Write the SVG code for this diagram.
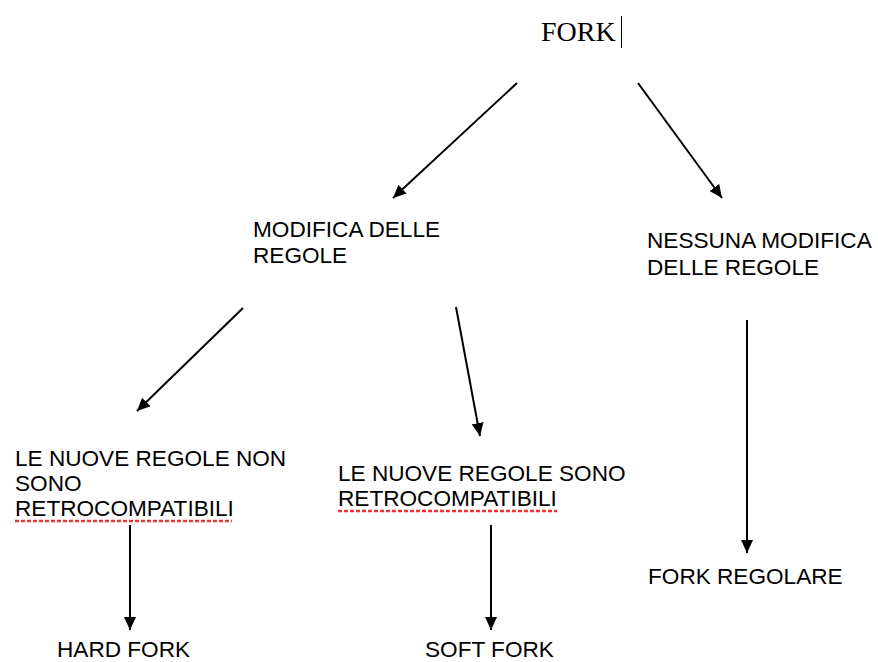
<svg xmlns="http://www.w3.org/2000/svg" width="878" height="662" viewBox="0 0 878 662">
<style>
.t{font-family:"Liberation Sans",Arial,Helvetica,sans-serif;font-size:22.6px;fill:#000}
.s{font-family:"Liberation Serif","Times New Roman",serif;font-size:28px;fill:#000}
.c{stroke:#000;stroke-width:2;fill:none;marker-end:url(#ah)}
.u{stroke:#e33;stroke-width:2.5;stroke-dasharray:4 2;fill:none}
</style>
<defs>
<marker id="ah" markerUnits="userSpaceOnUse" markerWidth="14" markerHeight="12" refX="13" refY="6" orient="auto">
<path d="M0,0 L13,6 L0,12 Z" fill="#000"/>
</marker>
</defs>
<rect width="878" height="662" fill="#fff"/>
<g id="connectors">
<line class="c" x1="517" y1="83" x2="393" y2="198"/>
<line class="c" x1="638" y1="83" x2="722" y2="198"/>
<line class="c" x1="243" y1="308" x2="137" y2="411"/>
<line class="c" x1="456" y1="307" x2="480" y2="436"/>
<line class="c" x1="130" y1="525" x2="130" y2="630"/>
<line class="c" x1="491" y1="525" x2="491" y2="630"/>
<line class="c" x1="747" y1="320" x2="747" y2="553"/>
</g>
<g id="fork">
<text class="s" x="541" y="41">FORK</text>
<line x1="621.5" y1="16" x2="621.5" y2="48" stroke="#000" stroke-width="1"/>
</g>
<g id="modifica">
<text class="t" x="253" y="237">MODIFICA DELLE</text>
<text class="t" x="253" y="263">REGOLE</text>
</g>
<g id="nessuna">
<text class="t" x="647" y="248">NESSUNA MODIFICA</text>
<text class="t" x="647" y="275">DELLE REGOLE</text>
</g>
<g id="non-retro">
<text class="t" x="15" y="466">LE NUOVE REGOLE NON</text>
<text class="t" x="15" y="491">SONO</text>
<text class="t" x="15" y="516">RETROCOMPATIBILI</text>
<line class="u" x1="15" y1="521" x2="232" y2="521"/>
</g>
<g id="retro">
<text class="t" x="338" y="481">LE NUOVE REGOLE SONO</text>
<text class="t" x="338" y="506">RETROCOMPATIBILI</text>
<line class="u" x1="338" y1="511" x2="557" y2="511"/>
</g>
<g id="hard">
<text class="t" x="57" y="657">HARD FORK</text>
</g>
<g id="soft">
<text class="t" x="425" y="657">SOFT FORK</text>
</g>
<g id="regolare">
<text class="t" x="648" y="584">FORK REGOLARE</text>
</g>
</svg>
